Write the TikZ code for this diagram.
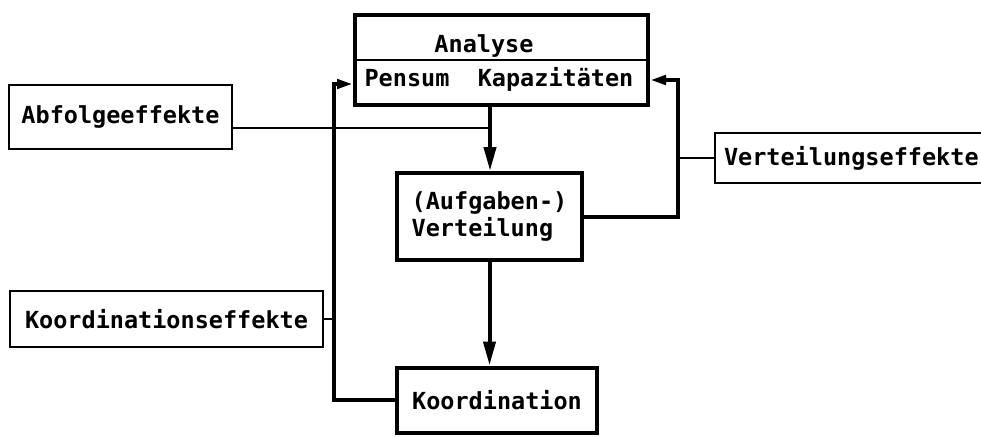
\documentclass[tikz,border=0pt]{standalone}
\usepackage{fontspec}
\setmonofont{DejaVu Sans Mono}
\usetikzlibrary{arrows.meta}
\begin{document}
\begin{tikzpicture}[x=1pt,y=-1pt,
  lbl/.style={font=\ttfamily\bfseries\fontsize{23.5}{27}\selectfont, inner sep=0pt},
  mainbox/.style={draw, rectangle, line width=4pt, inner sep=0pt},
  effbox/.style={draw, rectangle, line width=2pt, inner sep=0pt},
  heavy/.style={line width=4pt},
  light/.style={line width=2pt},
  bigarr/.style={-{Triangle[length=24pt,width=12pt]}},
  smallarr/.style={-{Triangle[length=16pt,width=9pt]}}]
\useasboundingbox (0,0) rectangle (981,436);
% main boxes
\node[mainbox, minimum width=293pt, minimum height=90pt] (ana) at (501.5,60) {};
\draw[light] (ana.west) -- (ana.east);
\node[lbl] (anat) at (484,46) {Analyse};
\node[lbl] (pk) at (499,79) {Pensum~~Kapazitäten};
\node[mainbox, lbl, minimum width=185pt, minimum height=87pt, align=left] (vt) at (489.5,216.5) {(Aufgaben-)\\Verteilung};
\node[mainbox, lbl, minimum width=200pt, minimum height=65pt] (ko) at (497,400) {Koordination};
% effect boxes
\node[effbox, lbl, minimum width=223pt, minimum height=64pt] (abf) at (120.5,117) {Abfolgeeffekte};
\node[effbox, lbl, minimum width=313pt, minimum height=56pt] (ke) at (166.5,319) {Koordinationseffekte};
\node[effbox, lbl, anchor=west, inner xsep=9pt, minimum height=50pt] (ve) at (714,158) {Verteilungseffekte};
% helper coordinates
\coordinate (j1) at (490,128);
\coordinate (lx) at (334,200);
\coordinate (rx) at (678,200);
\coordinate (lin) at ([yshift=-24pt]ana.west);
\coordinate (rin) at ([yshift=-20pt]ana.east);
% connectors
\draw[heavy,bigarr] (ana.south -| j1) -- (vt.north -| j1);
\draw[light] (abf.east |- j1) -- (j1);
\draw[heavy,bigarr] (vt.south) -- (vt.south |- ko.north);
\draw[heavy,smallarr] (ko.west) -| (lx |- lin) -- (lin);
\draw[heavy,smallarr] (vt.east) -| (rx |- rin) -- (rin);
\draw[light] (ke.east) -- (ke.east -| lx);
\draw[light] (ve.west) -- (ve.west -| rx);
\end{tikzpicture}
\end{document}
